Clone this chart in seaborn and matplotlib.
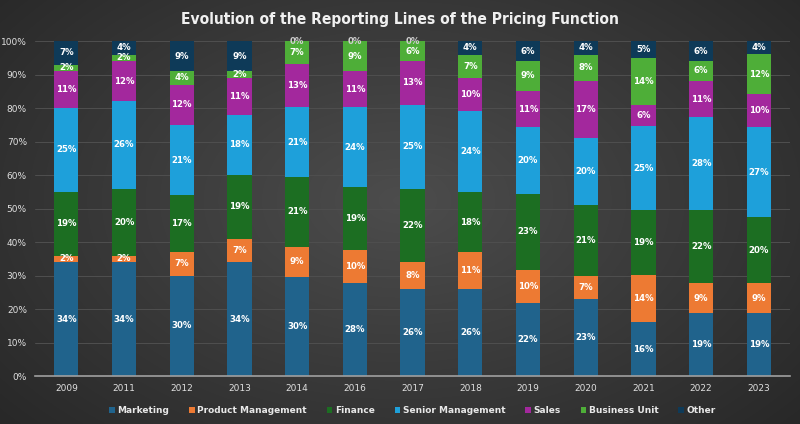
import numpy as np
import pandas as pd
import matplotlib
matplotlib.use("Agg")
import matplotlib.pyplot as plt
import seaborn as sns
from matplotlib.ticker import PercentFormatter
from matplotlib import font_manager

years = ["2009", "2011", "2012", "2013", "2014", "2016", "2017", "2018",
         "2019", "2020", "2021", "2022", "2023"]
marketing = [34, 34, 30, 34, 30, 28, 26, 26, 22, 23, 16, 19, 19]
product_mgmt = [2, 2, 7, 7, 9, 10, 8, 11, 10, 7, 14, 9, 9]
finance = [19, 20, 17, 19, 21, 19, 22, 18, 23, 21, 19, 22, 20]
senior_mgmt = [25, 26, 21, 18, 21, 24, 25, 24, 20, 20, 25, 28, 27]
sales = [11, 12, 12, 11, 13, 11, 13, 10, 11, 17, 6, 11, 10]
business_unit = [2, 2, 4, 2, 7, 9, 6, 7, 9, 8, 14, 6, 12]
other = [7, 4, 9, 9, 0, 0, 0, 4, 6, 4, 5, 6, 4]

series_names = ["Marketing", "Product Management", "Finance", "Senior Management",
                "Sales", "Business Unit", "Other"]
series_vals = [marketing, product_mgmt, finance, senior_mgmt, sales, business_unit, other]
colors = ["#20638c", "#ed7a33", "#1c6e22", "#1ea0da", "#a3289d", "#4eae38", "#0e3a58"]

sns.set_theme(style="dark")
plt.rcParams['font.family'] = ['DejaVu Sans']

names = {f.name for f in font_manager.fontManager.ttflist}
title_family = "DejaVu Sans Condensed" if "DejaVu Sans Condensed" in names else "DejaVu Sans"
title_stretch = "condensed"

fig = plt.figure(figsize=(8, 4.24), dpi=100)

# background gradient
bg = fig.add_axes([0, 0, 1, 1], zorder=-10)
yy, xx = np.mgrid[0:424, 0:800]
d = np.sqrt(((xx - 400) / 520.0) ** 2 + ((yy - 200) / 330.0) ** 2)
g = np.clip(0.30 - 0.14 * d, 0.12, 0.32)
bg.imshow(np.dstack([g, g, g]), aspect="auto", extent=[0, 1, 0, 1])
bg.axis("off")

ax = fig.add_axes([0.044, 0.113, 0.9435, 0.79])
ax.set_facecolor("none")

vals = np.array(series_vals, dtype=float)
totals = vals.sum(axis=0)
norm = vals / totals * 100.0
bottoms = np.zeros(len(years))
for name, v, nv, c in zip(series_names, series_vals, norm, colors):
    df = pd.DataFrame({"year": years, "val": nv})
    sns.barplot(data=df, x="year", y="val", color=c, width=0.42, bottom=bottoms,
                ax=ax, label=name, saturation=1, edgecolor="none", linewidth=0)
    for i in range(len(years)):
        yc = bottoms[i] + nv[i] / 2
        tc = "#ffffff" if v[i] > 0 else "#cfcfcf"
        ax.text(i, yc, f"{v[i]}%", ha="center", va="center", fontsize=6.2,
                fontweight="bold", color=tc, zorder=5)
    bottoms = bottoms + nv

ax.set_ylim(0, 100)
ax.set_xlim(-0.54, 12.54)
ax.yaxis.set_major_formatter(PercentFormatter(decimals=0))
ax.set_yticks(np.arange(0, 101, 10))
ax.grid(axis="y", color="#4f4f4f", linewidth=0.7)
ax.set_axisbelow(True)
ax.set_xlabel("")
ax.set_ylabel("")
ax.tick_params(axis="both", colors="#e0e0e0", labelsize=6.5, length=0, pad=6)
for s in ["top", "right", "left"]:
    ax.spines[s].set_visible(False)
ax.spines["bottom"].set_color("#a0a0a0")
ax.spines["bottom"].set_linewidth(1.2)

leg = ax.legend(loc="upper center", bbox_to_anchor=(0.5, -0.065), ncol=7, frameon=False,
                fontsize=6.5, handlelength=0.6, handleheight=0.6, handletextpad=0.3,
                columnspacing=2.2)
for t in leg.get_texts():
    t.set_color("#e8e8e8")
    t.set_fontweight("bold")

fig.text(0.5, 0.955, "Evolution of the Reporting Lines of the Pricing Function",
         ha="center", va="center", fontsize=11.2, fontweight="bold", color="#f0f0f0",
         family=title_family, fontstretch=title_stretch)

fig.savefig("out.png", dpi=100)
